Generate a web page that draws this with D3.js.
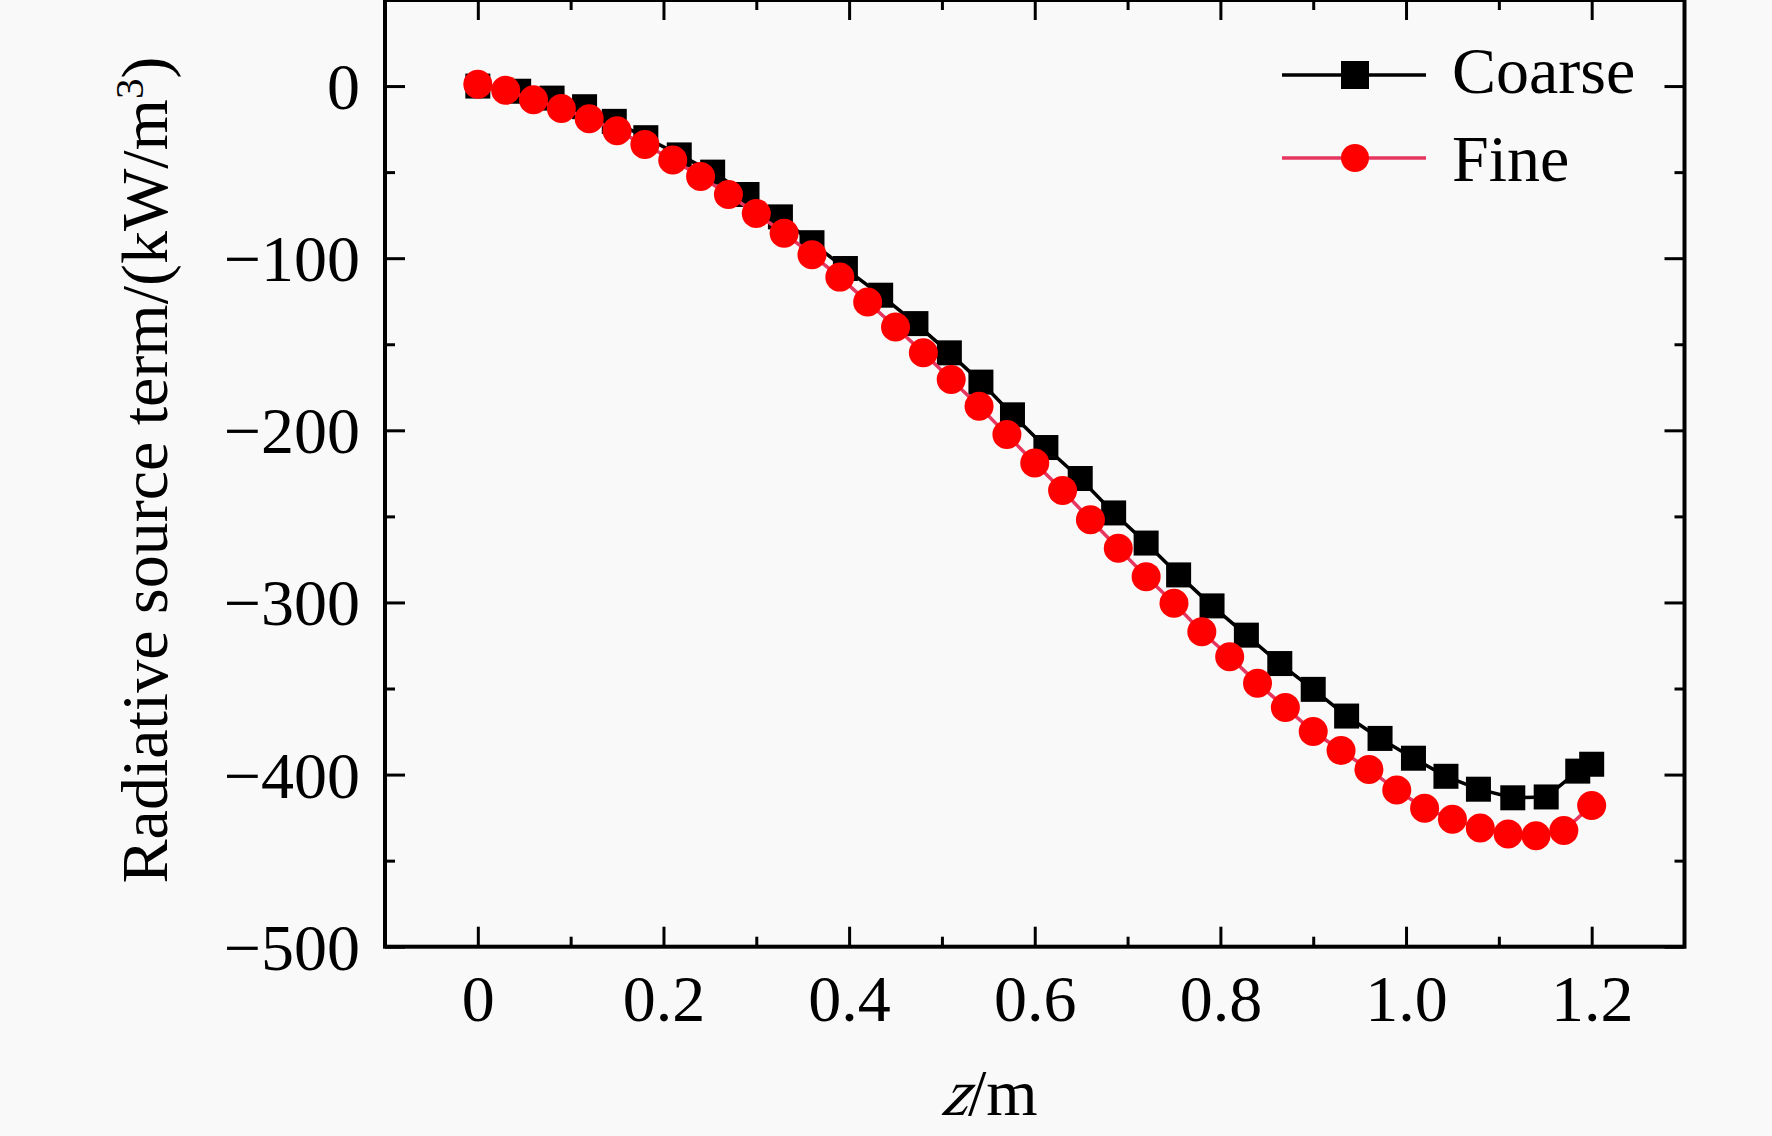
<!DOCTYPE html>
<html>
<head>
<meta charset="utf-8">
<script src="https://d3js.org/d3.v7.min.js"></script>
<style>
    body { margin: 0; background: #f9f9f9; }
    svg { display: block; }
    text { font-family: "Liberation Serif", "Times New Roman", serif; fill: #000; }
    .axis text { font-size: 66px; }
    .axis line { stroke: #000; stroke-width: 3; }
</style>
</head>
<body>
<div id="chart"></div>
<script>
// Values
const coarseZ = [0, 0.044, 0.080, 0.115, 0.147, 0.181, 0.217, 0.253, 0.290, 0.326, 0.360, 0.396,
    0.434, 0.472, 0.508, 0.542, 0.576, 0.612, 0.649, 0.685, 0.720, 0.755, 0.791, 0.828,
    0.864, 0.900, 0.936, 0.972, 1.008, 1.043, 1.078, 1.115, 1.151, 1.185, 1.200];
const coarseS = [0, -3, -7, -12, -20.5, -30, -40, -50, -63, -76, -91, -106,
    -121.5, -138, -155, -172, -191, -210, -228, -248, -265.5, -284, -302, -319,
    -335.5, -350.5, -366, -379, -390.5, -401, -408.5, -413.5, -413, -398, -394];

const fineZ = [0, 0.03, 0.06, 0.09, 0.12, 0.15, 0.18, 0.21, 0.24, 0.27, 0.30, 0.33, 0.36, 0.39,
    0.42, 0.45, 0.48, 0.51, 0.54, 0.57, 0.60, 0.63, 0.66, 0.69, 0.72, 0.75, 0.78, 0.81,
    0.84, 0.87, 0.90, 0.93, 0.96, 0.99, 1.02, 1.05, 1.08, 1.11, 1.14, 1.17, 1.20];
const fineS = [1, -2.5, -8, -13, -19, -26, -34, -43, -52.5, -63, -74, -85.5, -98, -111,
    -125.5, -140, -155, -170.5, -186, -202.5, -219, -235, -252, -268.5, -285, -300.5, -317, -331.5,
    -347, -361, -375, -386, -397, -409, -419.5, -426, -431, -434.5, -435.5, -432.5, -418];

const xTicks = [0, 0.2, 0.4, 0.6, 0.8, 1.0, 1.2];
const xMinorTicks = [0.1, 0.3, 0.5, 0.7, 0.9, 1.1];
const yTicks = [0, -100, -200, -300, -400, -500];
const yMinorTicks = [50, -50, -150, -250, -350, -450];
const seriesNames = ["Coarse", "Fine"];

// Set dimensions
const fullWidth = 1772, fullHeight = 1136;
const margin = {top: 0, right: 87.5, bottom: 189.3, left: 385};
const width = fullWidth - margin.left - margin.right;
const height = fullHeight - margin.top - margin.bottom;

const fineColor = "#e6365f";

const root = d3.select("#chart")
    .append("svg")
    .attr("width", fullWidth)
    .attr("height", fullHeight);

root.append("rect")
    .attr("width", fullWidth)
    .attr("height", fullHeight)
    .attr("fill", "#f9f9f9");

const svg = root.append("g")
    .attr("transform", `translate(${margin.left},${margin.top})`);

// Scales
const x = d3.scaleLinear().domain([-0.1, 1.3]).range([0, width]);
const y = d3.scaleLinear().domain([-500, 50]).range([height, 0]);

const fmtX = d => d === 0 ? "0" : d3.format(".1f")(d);
const noDomain = g => g.select(".domain").remove();

// Bottom axis (major + minor, ticks inward)
svg.append("g")
    .attr("class", "axis")
    .attr("transform", `translate(0,${height})`)
    .call(d3.axisBottom(x).tickValues(xTicks).tickSize(-20).tickFormat(fmtX))
    .call(noDomain)
    .call(g => g.selectAll("text").attr("y", 74).attr("dy", null));

svg.append("g")
    .attr("class", "axis")
    .attr("transform", `translate(0,${height})`)
    .call(d3.axisBottom(x).tickValues(xMinorTicks).tickSize(-10).tickFormat(""))
    .call(noDomain);

// Top axis (mirror)
svg.append("g")
    .attr("class", "axis")
    .call(d3.axisTop(x).tickValues(xTicks).tickSize(-20).tickFormat(""))
    .call(noDomain);

svg.append("g")
    .attr("class", "axis")
    .call(d3.axisTop(x).tickValues(xMinorTicks).tickSize(-10).tickFormat(""))
    .call(noDomain);

// Left axis
svg.append("g")
    .attr("class", "axis")
    .call(d3.axisLeft(y).tickValues(yTicks).tickSize(-20).tickPadding(25))
    .call(noDomain)
    .call(g => g.selectAll("text").attr("dy", "0.34em"));

svg.append("g")
    .attr("class", "axis")
    .call(d3.axisLeft(y).tickValues(yMinorTicks).tickSize(-10).tickFormat(""))
    .call(noDomain);

// Right axis (mirror)
svg.append("g")
    .attr("class", "axis")
    .attr("transform", `translate(${width},0)`)
    .call(d3.axisRight(y).tickValues(yTicks).tickSize(-20).tickFormat(""))
    .call(noDomain);

svg.append("g")
    .attr("class", "axis")
    .attr("transform", `translate(${width},0)`)
    .call(d3.axisRight(y).tickValues(yMinorTicks).tickSize(-10).tickFormat(""))
    .call(noDomain);

// Frame
svg.append("rect")
    .attr("x", 0)
    .attr("y", 0)
    .attr("width", width)
    .attr("height", height)
    .attr("fill", "none")
    .attr("stroke", "#000")
    .attr("stroke-width", 4);

const line = d3.line()
    .x(d => x(d[0]))
    .y(d => y(d[1]));

const coarse = d3.zip(coarseZ, coarseS);
const fine = d3.zip(fineZ, fineS);

// Coarse series
svg.append("path")
    .datum(coarse)
    .attr("d", line)
    .attr("fill", "none")
    .attr("stroke", "#000")
    .attr("stroke-width", 3.5);

svg.selectAll(".sq")
    .data(coarse)
    .enter()
    .append("rect")
    .attr("class", "sq")
    .attr("x", d => x(d[0]) - 12.5)
    .attr("y", d => y(d[1]) - 12.5)
    .attr("width", 25)
    .attr("height", 25)
    .attr("fill", "#000");

// Fine series
svg.append("path")
    .datum(fine)
    .attr("d", line)
    .attr("fill", "none")
    .attr("stroke", fineColor)
    .attr("stroke-width", 3.5);

svg.selectAll(".dot")
    .data(fine)
    .enter()
    .append("circle")
    .attr("class", "dot")
    .attr("cx", d => x(d[0]))
    .attr("cy", d => y(d[1]))
    .attr("r", 14.5)
    .attr("fill", "#ff0000");

// Legend
const legend = root.append("g");
const legendRows = [
    {name: seriesNames[0], ly: 75, ty: 93},
    {name: seriesNames[1], ly: 158, ty: 181}
];

legendRows.forEach((r, i) => {
    legend.append("line")
        .attr("x1", 1282).attr("x2", 1426)
        .attr("y1", r.ly).attr("y2", r.ly)
        .attr("stroke", i === 0 ? "#000" : fineColor)
        .attr("stroke-width", 3.5);
    if (i === 0) {
        legend.append("rect")
            .attr("x", 1355 - 14).attr("y", r.ly - 14)
            .attr("width", 28).attr("height", 28)
            .attr("fill", "#000");
    } else {
        legend.append("circle")
            .attr("cx", 1355).attr("cy", r.ly)
            .attr("r", 14)
            .attr("fill", "#ff0000");
    }
    legend.append("text")
        .attr("x", 1452)
        .attr("y", r.ty)
        .style("font-size", "66px")
        .text(r.name);
});

// X-axis label: italic z followed by /m
root.append("text")
    .attr("transform", "translate(968,1115) skewX(-16)")
    .attr("text-anchor", "end")
    .style("font-size", "66px")
    .style("font-style", "italic")
    .text("z");
root.append("text")
    .attr("x", 968)
    .attr("y", 1115)
    .attr("text-anchor", "start")
    .style("font-size", "66px")
    .text("/m");

// Y-axis label
const yLabel = root.append("text")
    .attr("transform", "translate(167,470) rotate(-90)")
    .attr("text-anchor", "middle")
    .style("font-size", "66px");
yLabel.append("tspan").text("Radiative source term/(kW/m");
yLabel.append("tspan").attr("dy", -24).style("font-size", "41px").text("3");
yLabel.append("tspan").attr("dy", 24).text(")");
</script>
</body>
</html>
